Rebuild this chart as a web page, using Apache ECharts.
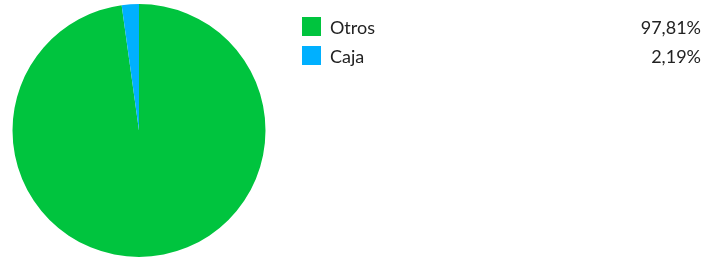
<!DOCTYPE html>
<html>
<head>
<meta charset="utf-8">
<script src="https://cdn.jsdelivr.net/npm/echarts@6/dist/echarts.min.js"></script>
<style>
  html, body { margin: 0; padding: 0; background: #fff; }
  #chart { width: 720px; height: 260px; }
</style>
</head>
<body>
<div id="chart"></div>
<script>
const categories = ['Otros', 'Caja']
const values = [97.81, 2.19]
const colors = ['#00C43E', '#00B0FF']

function fmt(v) {
  return v.toFixed(2).replace('.', ',') + '%'
}

const chart = echarts.init(document.getElementById('chart'))
chart.setOption({
  animation: false,
  color: colors,
  legend: {
    orient: 'vertical',
    left: 297,
    top: 12,
    icon: 'rect',
    itemWidth: 19,
    itemHeight: 19,
    itemGap: 9,
    selectedMode: false,
    data: categories,
    formatter: function (name) {
      const i = categories.indexOf(name)
      return '{n|' + name + '}{v|' + fmt(values[i]) + '}'
    },
    textStyle: {
      rich: {
        n: { width: 200, fontFamily: 'Lato', fontSize: 18, color: '#222', padding: [3, 0, 0, 4] },
        v: { width: 171, align: 'right', fontFamily: 'Lato', fontSize: 18, color: '#222', padding: [3, 0, 0, 0] }
      }
    }
  },
  series: [
    {
      type: 'pie',
      center: [139, 130.5],
      radius: [0, 126.5],
      startAngle: 90,
      clockwise: true,
      label: { show: false },
      labelLine: { show: false },
      emphasis: { disabled: true },
      itemStyle: { borderWidth: 0 },
      data: categories.map(function (c, i) {
        return { name: c, value: values[i] }
      })
    }
  ]
})
</script>
</body>
</html>
